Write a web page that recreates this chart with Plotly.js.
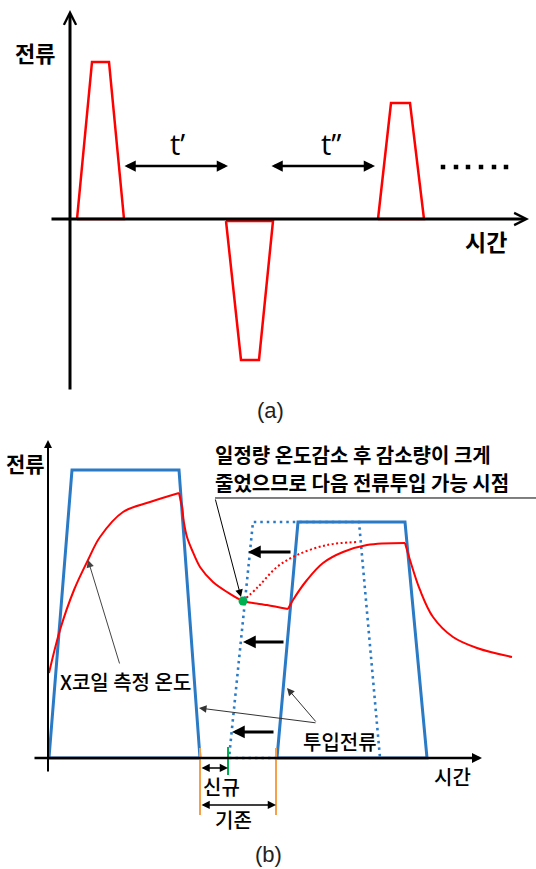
<!DOCTYPE html>
<html><head><meta charset="utf-8">
<script src="https://cdn.plot.ly/plotly-3.0.1.min.js"></script>
<style>html,body{margin:0;padding:0;background:#fff;}#chart{width:536px;height:869px;}</style>
</head><body><div id="chart"></div>
<script>
// ===== Panel (a): current vs time, origin at the axis crossing =====
const aTimeAxis = [-20, 459];
const aCurrAxis = [-172, 209];
const aPulse1T = [7, 22, 39, 54, 7];
const aPulse1I = [0, 157, 157, 0, 0];
const aPulse2T = [156, 171, 189, 203, 156];
const aPulse2I = [-2, -141, -141, -2, -2];
const aPulse3T = [308, 321, 340, 354, 308];
const aPulse3I = [0, 116, 116, 0, 0];
const aGapStartT = [53, 200];
const aGapEndT = [158, 305];
const aGapI = [53, 53];
const aGapLabels = ['t’', 't”'];
const aGapLabelT = [107, 261];
const aGapLabelI = [76, 76];
const aDotsT = [373, 386, 398, 411, 424, 436];
const aDotsI = [52, 52, 52, 52, 52, 52];
const aLabels = ['전류', '시간', '(a)'];
const aLabelT = [-35, 416, 200];
const aLabelI = [167, -22, -191];

// ===== Panel (b): input current and measured coil temperature =====
const bTimeAxis = [-15, 434];
const bCurrAxis = [-15, 318];
const bPulse1T = [152, 1, 24, 131, 152];
const bPulse1I = [0, 0, 288, 288, 0];
const bPulse2T = [229, 250, 357, 379, 229];
const bPulse2I = [0, 236, 236, 0, 0];
const bShiftT = [229, 181, 205, 311, 332];
const bShiftI = [0, 0, 236, 236, 0];
const bRise1T = [1, 12, 26, 40, 52, 75, 102, 131];
const bRise1I = [85, 128, 168, 198, 221, 246, 256, 265];
const bFall1T = [131, 134, 136, 139, 144, 152, 165, 179, 195, 219, 240];
const bFall1I = [265, 251, 235, 221, 208, 191, 176, 166, 157, 153, 149];
const bRise2T = [240, 245, 259, 275, 295, 319, 357];
const bRise2I = [149, 158, 178, 195, 206, 213, 215];
const bFall2T = [357, 362, 372, 385, 405, 429, 464];
const bFall2I = [215, 198, 168, 141, 121, 110, 101];
const bNewRiseT = [195, 210, 229, 249, 279, 309];
const bNewRiseI = [157, 171, 191, 203, 213, 216];
const bPointT = [195];
const bPointI = [157];
const bOldMarkT = [152, 228];
const bOldMarkI = [10, -57];
const bNewMarkT = [180];
const bNewMarkI = [11, -17];
const bShiftTailT = [244, 237, 227];
const bShiftHeadT = [200, 195, 184];
const bShiftI2 = [206, 116, 26];
const bSpanStartT = [152, 152];
const bSpanEndT = [180, 228];
const bSpanI = [-10, -47];
const bNoteLineT = [167, 488];
const bNoteLineI = [260, 260];
const bNoteText = ['일정량 온도감소 후 감소량이 크게', '줄었으므로 다음 전류투입 가능 시점'];
const bNoteI = [303, 275];
const bNoteT = 165;
const bLabels = ['전류', 'X코일 측정 온도', '투입전류', '시간', '신규', '기존', '(b)'];
const bLabelT = [-23, 77, 292, 404, 173, 185, 220];
const bLabelI = [295, 76, 16, -19, -29, -62, -97];

const RED = '#ff0000', BLUE = '#2a7ac6', GREEN = '#00b050', ORANGE = '#f5a04a';
const KR = 'Noto Sans CJK KR, Noto Sans, sans-serif';

function line(xs, ys, xa, ya, color, width, extra) {
  return Object.assign({type: 'scatter', mode: 'lines', x: xs, y: ys, xaxis: xa, yaxis: ya,
    line: {color: color, width: width}, hoverinfo: 'skip', showlegend: false}, extra || {});
}

const traces = [
  line(aPulse1T, aPulse1I, 'x', 'y', RED, 2.5),
  line(aPulse2T, aPulse2I, 'x', 'y', RED, 2.5),
  line(aPulse3T, aPulse3I, 'x', 'y', RED, 2.5),
  {type: 'scatter', mode: 'markers', x: aDotsT, y: aDotsI, xaxis: 'x', yaxis: 'y',
    marker: {color: '#000', size: 4.5, symbol: 'square'}, hoverinfo: 'skip', showlegend: false},
  line(bShiftT, bShiftI, 'x2', 'y2', BLUE, 2.6, {line: {color: BLUE, width: 2.6, dash: '2.5px,4px'}}),
  line(bPulse1T, bPulse1I, 'x2', 'y2', BLUE, 3),
  line(bPulse2T, bPulse2I, 'x2', 'y2', BLUE, 3),
  line(bNewRiseT, bNewRiseI, 'x2', 'y2', RED, 2, {line: {color: RED, width: 2, dash: '2px,2.5px', shape: 'spline'}}),
  line(bRise1T, bRise1I, 'x2', 'y2', RED, 2, {line: {color: RED, width: 2, shape: 'spline'}}),
  line(bFall1T, bFall1I, 'x2', 'y2', RED, 2, {line: {color: RED, width: 2, shape: 'spline', smoothing: 0.8}}),
  line(bRise2T, bRise2I, 'x2', 'y2', RED, 2, {line: {color: RED, width: 2, shape: 'spline'}}),
  line(bFall2T, bFall2I, 'x2', 'y2', RED, 2, {line: {color: RED, width: 2, shape: 'spline'}}),
  line([bOldMarkT[0], bOldMarkT[0]], bOldMarkI, 'x2', 'y2', ORANGE, 2),
  line([bOldMarkT[1], bOldMarkT[1]], bOldMarkI, 'x2', 'y2', ORANGE, 2),
  line([bNewMarkT[0], bNewMarkT[0]], bNewMarkI, 'x2', 'y2', GREEN, 2),
  line(bNoteLineT, bNoteLineI, 'x2', 'y2', '#000', 1),
  {type: 'scatter', mode: 'markers', x: bPointT, y: bPointI, xaxis: 'x2', yaxis: 'y2',
    marker: {color: GREEN, size: 9}, hoverinfo: 'skip', showlegend: false}
];

function arrow(xr, yr, hx, hy, tx, ty, o) {
  return Object.assign({xref: xr, yref: yr, axref: xr, ayref: yr, x: hx, y: hy, ax: tx, ay: ty,
    text: '', showarrow: true, arrowhead: 2, arrowsize: 1, arrowwidth: 1, arrowcolor: '#000',
    standoff: 0, startstandoff: 0}, o || {});
}
function label(xr, yr, x, y, text, size, o) {
  const base = {xref: xr, yref: yr, x: x, y: y, text: text, showarrow: false,
    xanchor: 'center', yanchor: 'middle', font: {family: KR, size: size, color: '#000', weight: 500}};
  return Object.assign(base, o || {});
}

const ann = [];
// panel (a) axes
ann.push(arrow('x', 'y', aTimeAxis[1], 0, aTimeAxis[0], 0, {arrowhead: 5, arrowwidth: 3, arrowsize: 0.8}));
ann.push(arrow('x', 'y', 0, aCurrAxis[1], 0, aCurrAxis[0], {arrowhead: 5, arrowwidth: 3, arrowsize: 0.8}));
for (let i = 0; i < aGapStartT.length; i++) {
  ann.push(arrow('x', 'y', aGapEndT[i], aGapI[i], aGapStartT[i], aGapI[i],
    {arrowhead: 2, startarrowhead: 2, arrowside: 'end+start', arrowwidth: 2.5, arrowsize: 0.9, startarrowsize: 0.9}));
  ann.push(label('x', 'y', aGapLabelT[i], aGapLabelI[i], aGapLabels[i], 29,
    {font: {family: 'Open Sans, Liberation Sans, sans-serif', size: 29, color: '#000'}}));
}
ann.push(label('x', 'y', aLabelT[0], aLabelI[0], aLabels[0], 22, {font: {family: KR, size: 22, color: '#000', weight: 'bold'}}));
ann.push(label('x', 'y', aLabelT[1], aLabelI[1], aLabels[1], 23, {font: {family: KR, size: 23, color: '#000', weight: 'bold'}}));
ann.push(label('x', 'y', aLabelT[2], aLabelI[2], aLabels[2], 22, {font: {family: 'Liberation Sans, Arial, sans-serif', size: 22, color: '#222'}}));

// panel (b) axes
ann.push(arrow('x2', 'y2', bTimeAxis[1], 0, bTimeAxis[0], 0, {arrowhead: 2, arrowwidth: 2.5, arrowsize: 0.8}));
ann.push(arrow('x2', 'y2', 0, bCurrAxis[1], 0, bCurrAxis[0], {arrowhead: 2, arrowwidth: 2, arrowsize: 0.8}));
// shift arrows
for (let i = 0; i < bShiftTailT.length; i++) {
  ann.push(arrow('x2', 'y2', bShiftHeadT[i], bShiftI2[i], bShiftTailT[i], bShiftI2[i], {arrowwidth: 3, arrowsize: 0.85}));
}
// interval arrows
for (let i = 0; i < bSpanStartT.length; i++) {
  ann.push(arrow('x2', 'y2', bSpanEndT[i], bSpanI[i], bSpanStartT[i], bSpanI[i],
    {arrowside: 'end+start', startarrowhead: 2, arrowwidth: 1.5, arrowsize: 1.1, startarrowsize: 1.1}));
}
// leaders
ann.push(arrow('x2', 'y2', bPointT[0] - 2, bPointI[0] + 4, bNoteLineT[0], bNoteLineI[0], {arrowwidth: 1, arrowsize: 1.5}));
ann.push(arrow('x2', 'y2', 40, 198, 72, 93, {arrowwidth: 1, arrowsize: 1.5, arrowcolor: '#444'}));
ann.push(arrow('x2', 'y2', 239, 70, 269, 35, {arrowwidth: 1, arrowsize: 1.5, arrowcolor: '#333'}));
ann.push(arrow('x2', 'y2', 151, 50, 269, 35, {arrowwidth: 1, arrowsize: 1.5, arrowcolor: '#333'}));
// note text
for (let i = 0; i < bNoteText.length; i++) {
  ann.push(label('x2', 'y2', bNoteT, bNoteI[i], bNoteText[i], 20,
    {xanchor: 'left', font: {family: KR, size: 20, color: '#000', weight: 'bold'}}));
}
ann.push(label('x2', 'y2', bLabelT[0], bLabelI[0], bLabels[0], 21, {font: {family: KR, size: 21, color: '#000', weight: 'bold'}}));
for (let i = 1; i < bLabels.length - 1; i++) {
  ann.push(label('x2', 'y2', bLabelT[i], bLabelI[i], bLabels[i], 20));
}
ann.push(label('x2', 'y2', bLabelT[6], bLabelI[6], bLabels[6], 22, {font: {family: 'Liberation Sans, Arial, sans-serif', size: 22, color: '#222'}}));

const hid = {visible: false, fixedrange: true};
const layout = {
  width: 536, height: 869, margin: {l: 0, r: 0, t: 0, b: 0},
  paper_bgcolor: '#fff', plot_bgcolor: '#fff', showlegend: false,
  xaxis: Object.assign({range: [-70, 466], domain: [0, 1]}, hid),
  yaxis: Object.assign({range: [-211, 219], domain: [0.50518, 1]}, hid),
  xaxis2: Object.assign({range: [-48, 488], domain: [0, 1], anchor: 'y2'}, hid),
  yaxis2: Object.assign({range: [-111, 328], domain: [0, 0.50518], anchor: 'x2'}, hid),
  annotations: ann
};
Plotly.newPlot('chart', traces, layout, {staticPlot: true, displayModeBar: false});
</script></body></html>
